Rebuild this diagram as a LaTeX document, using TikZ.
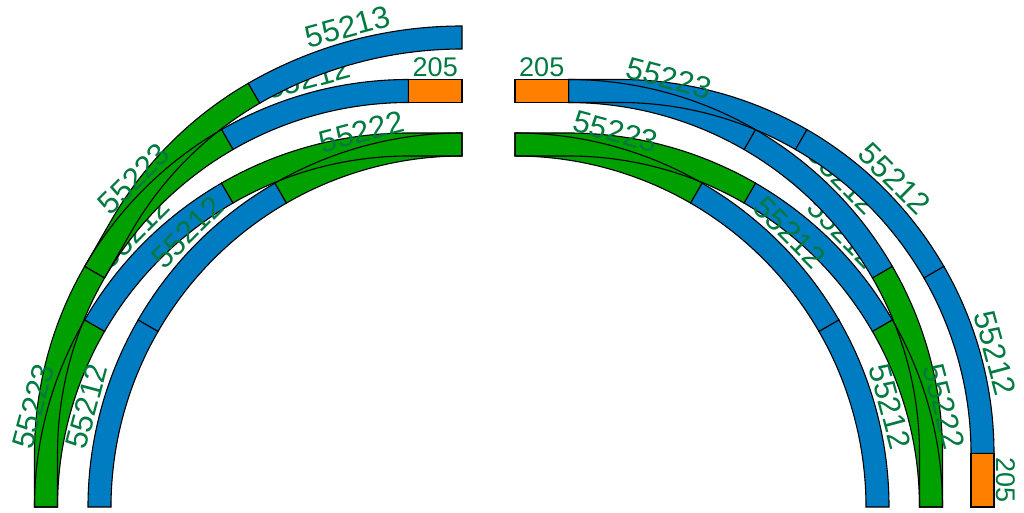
\documentclass[tikz,border=0pt]{standalone}
\usepackage{fontspec}
\setmainfont{Liberation Sans}
\usetikzlibrary{calc}
\definecolor{trackblue}{RGB}{0,124,194}
\definecolor{trackgreen}{RGB}{0,160,0}
\definecolor{trackorange}{RGB}{255,128,0}
\definecolor{labelgreen}{RGB}{0,122,64}
\newcommand{\trackshape}[7]{%
  \pgfmathsetmacro\trkout{#4+11.5}%
  \pgfmathsetmacro\trkin{#4-11.5}%
  \pgfmathsetmacro\trkback{#5<#6 ? #5-90 : #5+90}%
  \path[#1] ($(#2,#3)+(#5:\trkout)$) arc[start angle=#5, end angle=#6, radius=\trkout]
    -- ($(#2,#3)+(#6:\trkin)$) arc[start angle=#6, end angle=#5, radius=\trkin]
    -- ($(#2,#3)+(#5:\trkin)+(\trkback:#7)$) -- ($(#2,#3)+(#5:\trkout)+(\trkback:#7)$) -- cycle;}
\newcommand{\piece}[6]{\trackshape{track=#1}{#2}{#3}{#4}{#5}{#6}{0}}
\newcommand{\turnout}[8]{%
  \trackshape{fill=#1}{#2}{#3}{362.5}{#6}{#7}{0}%
  \trackshape{fill=#1}{#4}{#5}{362.5}{#6}{#7}{#8}%
  \trackshape{draw=black}{#2}{#3}{362.5}{#6}{#7}{0}%
  \trackshape{draw=black}{#4}{#5}{362.5}{#6}{#7}{#8}}
\newcommand{\tracklabel}[6]{%
  \pgfmathsetmacro\trklab{#4+26}%
  \node[piece label, rotate={-#5-90}] (#1) at ($(#2,#3)+(#5:\trklab)$) {#6};}

\begin{document}
\begin{tikzpicture}[x=1pt, y=-1pt, line width=1.1pt,
  track/.style={fill=#1, draw=black},
  piece label/.style={text=labelgreen, inner sep=0pt, font=\fontsize{31}{31}\selectfont},
  short label/.style={piece label, font=\fontsize{27}{27}\selectfont}]
\useasboundingbox (0,0) rectangle (1024,513);

\piece{trackblue}{408.5}{507}{362.5}{210}{240}
\tracklabel{lb3}{408.5}{507}{362.5}{225}{55212}
\piece{trackblue}{408.5}{453.5}{362.5}{240}{270}
\tracklabel{lb2}{408.5}{453.5}{362.5}{255}{55212}
\turnout{trackgreen}{408.5}{453.5}{435.25}{407.2}{210}{240}{53.5}
\tracklabel{lt2}{408.5}{453.5}{362.5}{225}{55223}
\piece{trackblue}{462}{453.5}{416}{240}{270}
\tracklabel{lb1}{462}{453.5}{416}{255}{55213}
\piece{trackblue}{462}{507}{362.5}{210}{240}
\tracklabel{lb4}{462}{507}{362.5}{225}{55212}
\turnout{trackgreen}{462}{507}{408.5}{507}{270}{240}{53.5}
\tracklabel{lt3}{462}{507}{362.5}{255}{55222}
\turnout{trackgreen}{408.5}{507}{408.5}{453.5}{180}{210}{53.5}
\tracklabel{lt1}{408.5}{507}{362.5}{195}{55223}
\piece{trackblue}{462}{507}{362.5}{180}{210}
\tracklabel{lb5}{462}{507}{362.5}{195}{55212}
\draw[track=trackorange] (408.5,79.5) rectangle (462,102.5);
\node[short label] (lo1) at (435.25,67) {205};

\piece{trackblue}{568.5}{507}{362.5}{300}{330}
\tracklabel{rb5}{568.5}{507}{362.5}{315}{55212}
\piece{trackblue}{568.5}{453.5}{362.5}{300}{330}
\tracklabel{rb3}{568.5}{453.5}{362.5}{315}{55212}
\turnout{trackblue}{568.5}{453.5}{620}{453.5}{270}{300}{51.5}
\tracklabel{rt1}{568.5}{453.5}{362.5}{285}{55223}
\piece{trackblue}{620}{453.5}{362.5}{300}{330}
\tracklabel{rb1}{620}{453.5}{362.5}{315}{55212}
\piece{trackblue}{620}{453.5}{362.5}{330}{360}
\tracklabel{rb2}{620}{453.5}{362.5}{345}{55212}
\draw[track=trackorange] (971,453.5) rectangle (994,507);
\node[short label, rotate=-90] (ro2) at (1006,480.25) {205};
\piece{trackblue}{515}{507}{362.5}{300}{330}
\tracklabel{rb4}{515}{507}{362.5}{315}{55212}
\turnout{trackgreen}{515}{507}{568.5}{507}{270}{300}{53.5}
\tracklabel{rt2}{515}{507}{362.5}{285}{55223}
\turnout{trackgreen}{568.5}{507}{568.5}{453.5}{360}{330}{53.5}
\tracklabel{rt3}{568.5}{507}{362.5}{345}{55222}
\piece{trackblue}{515}{507}{362.5}{330}{360}
\tracklabel{rb6}{515}{507}{362.5}{345}{55212}
\draw[track=trackorange] (515,79.5) rectangle (568.5,102.5);
\node[short label] (ro1) at (541.75,67) {205};
\end{tikzpicture}
\end{document}
